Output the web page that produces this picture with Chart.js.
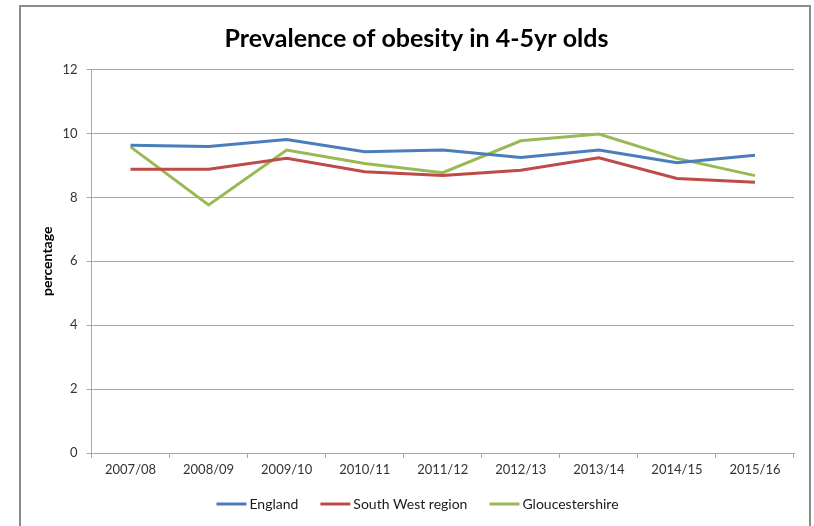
<!DOCTYPE html>
<html>
<head>
<meta charset="utf-8">
<script src="https://cdn.jsdelivr.net/npm/chart.js@4/dist/chart.umd.min.js"></script>
<style>
  html, body { margin: 0; padding: 0; background: #ffffff; }
  #wrap { width: 814px; height: 526px; position: relative; }
</style>
</head>
<body>
<div id="wrap"><canvas id="chart" width="814" height="526"></canvas></div>
<script>
// School years of the measurement programme
const years = ['2007/08', '2008/09', '2009/10', '2010/11', '2011/12', '2012/13', '2013/14', '2014/15', '2015/16'];

// Obesity prevalence (%) among reception-year children
const england = [9.63, 9.59, 9.81, 9.43, 9.48, 9.25, 9.48, 9.08, 9.32];
const southWest = [8.88, 8.88, 9.22, 8.80, 8.68, 8.85, 9.24, 8.59, 8.47];
const gloucestershire = [9.58, 7.76, 9.48, 9.06, 8.77, 9.77, 9.98, 9.22, 8.68];

const seriesNames = ['England', 'South West region', 'Gloucestershire'];
const seriesColors = ['#4a7ebb', '#be4b48', '#98b954'];

const titleText = 'Prevalence of obesity in 4-5yr olds';
const yAxisTitle = 'percentage';

const FONT = 'Lato, "Open Sans", sans-serif';
const GRID = '#a8a8a8';

// Outer frame, heading and the line legend under the axis
const decorations = {
  id: 'decorations',
  beforeDraw(chart) {
    const ctx = chart.ctx;
    ctx.save();
    ctx.fillStyle = '#ffffff';
    ctx.fillRect(0, 0, chart.width, chart.height);
    ctx.strokeStyle = '#8c8c8c';
    ctx.lineWidth = 2;
    ctx.strokeRect(20, 6, 790, chart.height + 10);
    ctx.restore();
  },
  afterDraw(chart) {
    const ctx = chart.ctx;
    ctx.save();
    // heading
    ctx.fillStyle = '#000000';
    ctx.font = 'bold 25px ' + FONT;
    ctx.textAlign = 'center';
    ctx.textBaseline = 'middle';
    ctx.fillText(titleText, 416.5, 39);

    // legend
    ctx.font = '14px ' + FONT;
    ctx.textAlign = 'left';
    const lineLen = 30, gapText = 3, gapItem = 22;
    const items = chart.data.datasets.map(ds => ({
      label: ds.label, color: ds.borderColor, w: ctx.measureText(ds.label).width
    }));
    let total = 0;
    items.forEach((it, i) => { total += lineLen + gapText + it.w + (i ? gapItem : 0); });
    let x = 417.5 - total / 2;
    const y = 504;
    items.forEach(it => {
      ctx.strokeStyle = it.color;
      ctx.lineWidth = 3;
      ctx.beginPath();
      ctx.moveTo(x, y);
      ctx.lineTo(x + lineLen, y);
      ctx.stroke();
      ctx.fillStyle = '#1a1a1a';
      ctx.fillText(it.label, x + lineLen + gapText, y);
      x += lineLen + gapText + it.w + gapItem;
    });
    ctx.restore();
  }
};

const datasets = [england, southWest, gloucestershire].map((values, i) => ({
  label: seriesNames[i],
  data: values,
  borderColor: seriesColors[i],
  backgroundColor: seriesColors[i],
  borderWidth: 3,
  pointRadius: 0,
  pointHoverRadius: 0,
  tension: 0,
  fill: false
}));

new Chart(document.getElementById('chart'), {
  type: 'line',
  data: { labels: years, datasets: datasets },
  plugins: [decorations],
  options: {
    responsive: false,
    animation: false,
    devicePixelRatio: 1,
    layout: { padding: { left: 20, right: 20, top: 69.5, bottom: 43 } },
    plugins: {
      legend: { display: false },
      title: { display: false },
      tooltip: { enabled: false }
    },
    scales: {
      x: {
        offset: true,
        grid: { offset: true, drawOnChartArea: false, drawTicks: true, tickLength: 5, color: GRID },
        border: { color: GRID, width: 1 },
        ticks: { color: '#333333', font: { family: FONT, size: 13 }, padding: 4, maxRotation: 0, autoSkip: false },
        afterFit(scale) { scale.height = 30; }
      },
      y: {
        min: 0,
        max: 12,
        ticks: { stepSize: 2, color: '#333333', font: { family: FONT, size: 13 }, padding: 9 },
        grid: { color: GRID, tickLength: 5, lineWidth: 1 },
        border: { color: GRID, width: 1 },
        title: {
          display: true,
          text: yAxisTitle,
          color: '#000000',
          font: { family: FONT, size: 14, weight: 'bold' },
          padding: { top: 19, bottom: 0 }
        },
        afterFit(scale) { scale.width = 71.5; }
      }
    }
  }
});
</script>
</body>
</html>
